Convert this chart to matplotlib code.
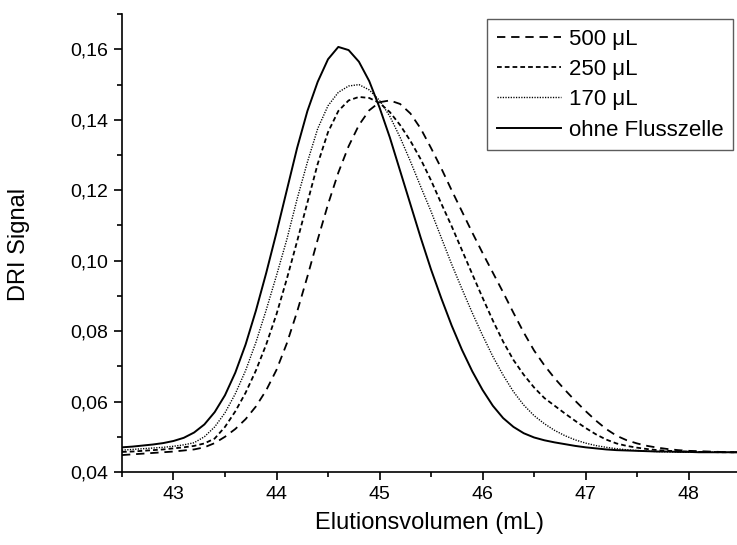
import numpy as np
import matplotlib
matplotlib.use("Agg")
import matplotlib.pyplot as plt
from matplotlib.ticker import MultipleLocator, FuncFormatter

plt.rcParams['font.family'] = ['Liberation Sans', 'DejaVu Sans']
plt.rcParams['lines.scale_dashes'] = False

# Elutionsvolumen (mL), Abtastung alle 0,1 mL
volumen = [42.5, 42.6, 42.7, 42.8, 42.9, 43.0, 43.1, 43.2, 43.3, 43.4,
           43.5, 43.6, 43.7, 43.8, 43.9, 44.0, 44.1, 44.2, 44.3, 44.4,
           44.5, 44.6, 44.7, 44.8, 44.9, 45.0, 45.1, 45.2, 45.3, 45.4,
           45.5, 45.6, 45.7, 45.8, 45.9, 46.0, 46.1, 46.2, 46.3, 46.4,
           46.5, 46.6, 46.7, 46.8, 46.9, 47.0, 47.1, 47.2, 47.3, 47.4,
           47.5, 47.6, 47.7, 47.8, 47.9, 48.0, 48.1, 48.2, 48.3, 48.4, 48.5]

# DRI Signal je Messzelle
sig_500 = [0.0448, 0.0450, 0.0452, 0.0454, 0.0456, 0.0458, 0.0461, 0.0464, 0.0470, 0.0482,
           0.0500, 0.0522, 0.0550, 0.0586, 0.0632, 0.0690, 0.0765, 0.0855, 0.0955, 0.1060,
           0.1160, 0.1250, 0.1325, 0.1385, 0.1427, 0.1450, 0.1455, 0.1445, 0.1418, 0.1375,
           0.1320, 0.1262, 0.1200, 0.1140, 0.1080, 0.1022, 0.0966, 0.0910, 0.0852, 0.0796,
           0.0745, 0.0703, 0.0666, 0.0633, 0.0602, 0.0573, 0.0546, 0.0522, 0.0503, 0.0490,
           0.0481, 0.0474, 0.0469, 0.0465, 0.0462, 0.0460, 0.0459, 0.0458, 0.0457, 0.0456, 0.0456]

sig_250 = [0.0457, 0.0458, 0.0460, 0.0462, 0.0464, 0.0467, 0.0470, 0.0474, 0.0481, 0.0495,
           0.0528, 0.0572, 0.0625, 0.0688, 0.0762, 0.0848, 0.0948, 0.1055, 0.1165, 0.1275,
           0.1365, 0.1425, 0.1455, 0.1465, 0.1462, 0.1448, 0.1422, 0.1385, 0.1340, 0.1288,
           0.1228, 0.1162, 0.1098, 0.1030, 0.0962, 0.0895, 0.0830, 0.0770, 0.0718, 0.0676,
           0.0640, 0.0610, 0.0588, 0.0566, 0.0545, 0.0525, 0.0507, 0.0492, 0.0481, 0.0474,
           0.0469, 0.0465, 0.0462, 0.0460, 0.0459, 0.0458, 0.0457, 0.0457, 0.0456, 0.0456, 0.0456]

sig_170 = [0.0462, 0.0464, 0.0466, 0.0468, 0.0470, 0.0473, 0.0477, 0.0483, 0.0500, 0.0528,
           0.0568, 0.0622, 0.0688, 0.0768, 0.0860, 0.0958, 0.1060, 0.1175, 0.1280, 0.1375,
           0.1440, 0.1478, 0.1496, 0.1500, 0.1485, 0.1455, 0.1410, 0.1350, 0.1282, 0.1210,
           0.1140, 0.1065, 0.0990, 0.0920, 0.0852, 0.0788, 0.0728, 0.0675, 0.0628, 0.0590,
           0.0560, 0.0537, 0.0518, 0.0503, 0.0491, 0.0482, 0.0475, 0.0470, 0.0466, 0.0463,
           0.0461, 0.0459, 0.0458, 0.0457, 0.0457, 0.0456, 0.0456, 0.0456, 0.0456, 0.0456, 0.0456]

sig_ohne = [0.0470, 0.0472, 0.0475, 0.0478, 0.0482, 0.0488, 0.0497, 0.0512, 0.0535, 0.0570,
            0.0618, 0.0682, 0.0762, 0.0858, 0.0965, 0.1080, 0.1200, 0.1320, 0.1425, 0.1508,
            0.1572, 0.1607, 0.1598, 0.1565, 0.1510, 0.1435, 0.1350, 0.1255, 0.1160, 0.1065,
            0.0975, 0.0893, 0.0816, 0.0747, 0.0686, 0.0633, 0.0588, 0.0553, 0.0528, 0.0510,
            0.0498, 0.0490, 0.0484, 0.0479, 0.0474, 0.0470, 0.0467, 0.0464, 0.0462, 0.0461,
            0.0460, 0.0459, 0.0458, 0.0458, 0.0457, 0.0457, 0.0456, 0.0456, 0.0456, 0.0456, 0.0456]

fig = plt.figure(figsize=(7.37, 5.45), dpi=100)
ax = fig.add_axes([0.1655, 0.134, 0.8345, 0.840])

ax.plot(volumen, sig_500, color='black', lw=1.3, dashes=(6, 4.2), label='500 μL')
ax.plot(volumen, sig_250, color='black', lw=1.3, dashes=(3.4, 2.2), label='250 μL')
ax.plot(volumen, sig_170, color='black', lw=1.0, dashes=(0.9, 1.0), label='170 μL')
ax.plot(volumen, sig_ohne, color='black', lw=1.4, label='ohne Flusszelle')

ax.set_xlim(42.5, 48.47)
ax.set_ylim(0.04, 0.17)

ax.spines['top'].set_visible(False)
ax.spines['right'].set_visible(False)
ax.spines['left'].set_linewidth(1.2)
ax.spines['bottom'].set_linewidth(1.2)

ax.xaxis.set_major_locator(MultipleLocator(1))
ax.xaxis.set_minor_locator(MultipleLocator(0.5))
ax.yaxis.set_major_locator(MultipleLocator(0.02))
ax.yaxis.set_minor_locator(MultipleLocator(0.01))
ax.xaxis.set_major_formatter(FuncFormatter(lambda v, p: f"{v:.0f}"))
ax.yaxis.set_major_formatter(FuncFormatter(lambda v, p: f"{v:.2f}".replace('.', ',')))

ax.tick_params(which='major', direction='out', length=6, width=1.2, labelsize=14, pad=4)
ax.tick_params(which='minor', direction='out', length=3.5, width=1.2)

ax.set_xlabel('Elutionsvolumen (mL)', fontsize=17)
ax.set_ylabel('DRI Signal', fontsize=17)
ax.xaxis.set_label_coords(0.5, -0.088)
ax.yaxis.set_label_coords(-0.15, 0.496)

leg = ax.legend(loc='upper right', bbox_to_anchor=(0.9935, 0.989), fontsize=16,
                frameon=True, fancybox=False, handlelength=2.9, handletextpad=0.35,
                labelspacing=0.42, borderpad=0.42, borderaxespad=0)
leg.get_frame().set_edgecolor('#333333')
leg.get_frame().set_linewidth(1.0)

fig.savefig('out.png', dpi=100)
